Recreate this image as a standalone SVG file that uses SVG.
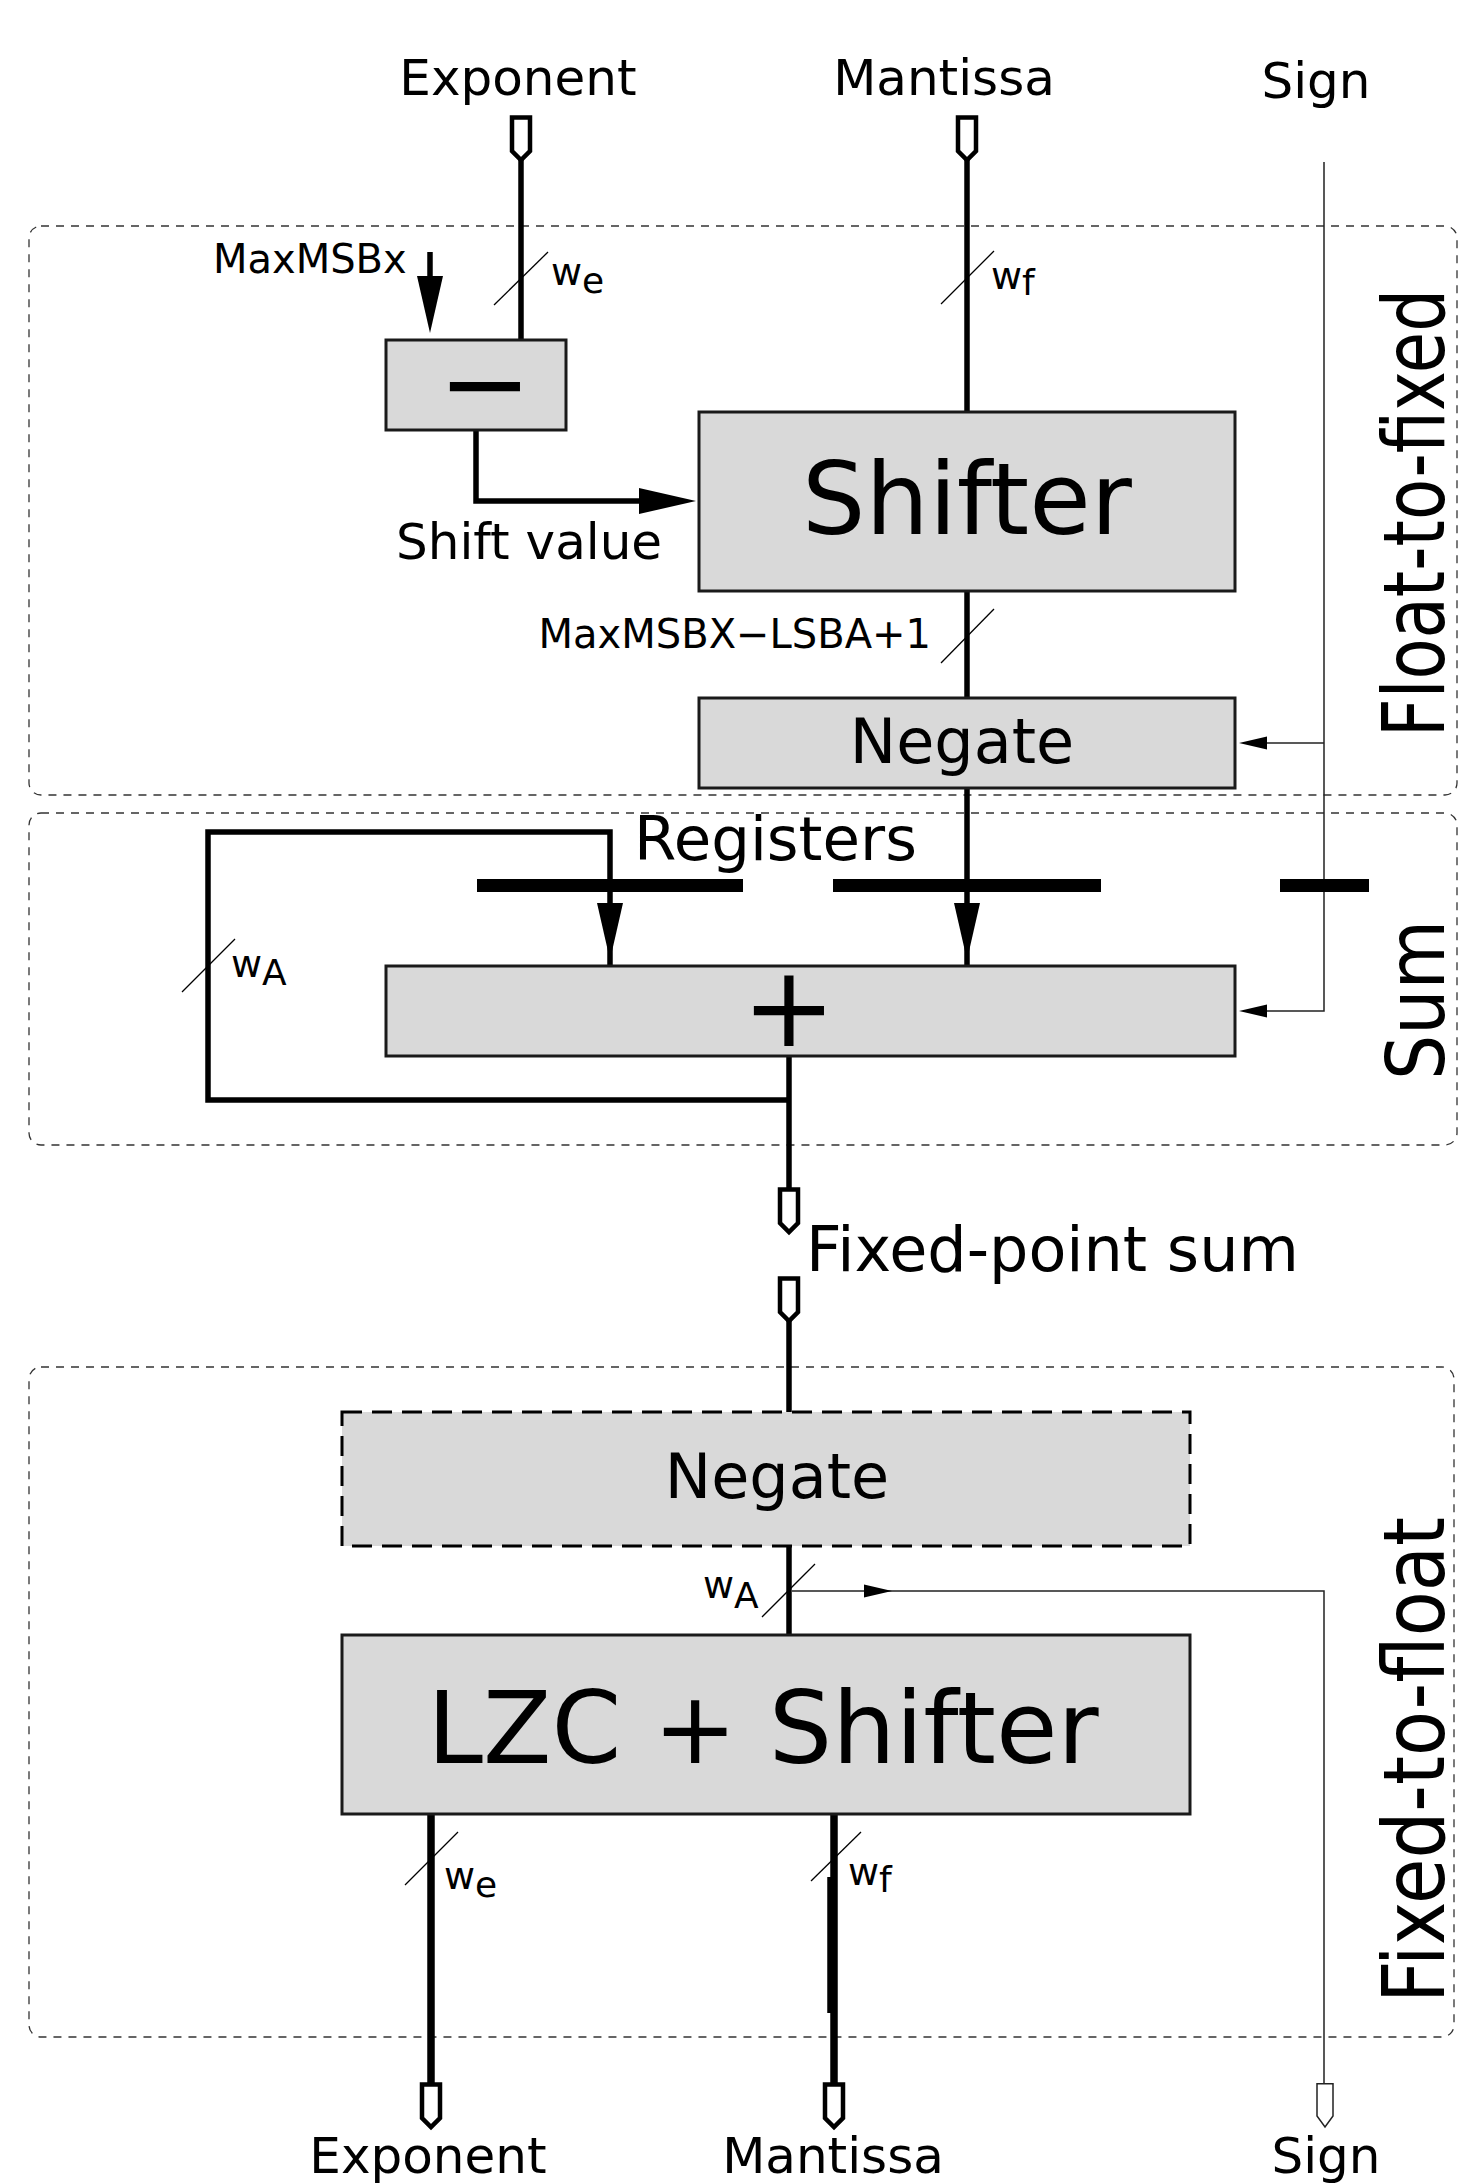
<svg xmlns="http://www.w3.org/2000/svg" width="1463" height="2184" viewBox="0 0 1463 2184">
<defs>
<style>
text { font-family: "DejaVu Sans", "Liberation Sans", sans-serif; fill: #000; }
.box { fill: #d9d9d9; stroke: #1a1a1a; stroke-width: 3; }
.dbox { fill: #d9d9d9; stroke: #000; stroke-width: 3; stroke-dasharray: 20 10; }
.region { fill: none; stroke: #333; stroke-width: 1.3; stroke-dasharray: 8 7; }
.w { fill: none; stroke: #000; stroke-width: 5.5; }
.wb { fill: none; stroke: #000; stroke-width: 7.5; }
.thin { fill: none; stroke: #222; stroke-width: 1.5; }
.slash { stroke: #000; stroke-width: 1.3; }
.port { fill: #fff; stroke: #000; stroke-width: 4.5; }
.sport { fill: #fff; stroke: #222; stroke-width: 1.5; }
.reg { stroke: #000; stroke-width: 13; }
.ah { fill: #000; }
.io { font-size: 50px; text-anchor: middle; }
.lbl { font-size: 38px; }
.sub { font-size: 36px; }
.side { text-anchor: middle; }
</style>
<path id="ahT" d="M-13,-57 L13,-57 L0,0 Z"/>
<path id="ahS" d="M-28,-6.5 L0,0 L-28,6.5 Z"/>
<path id="port" d="M-9,2.5 H9 V36 L0,45 L-9,36 Z"/>
<path id="sport" d="M-8,0.75 H8 V33 L0,44 L-8,33 Z"/>
</defs>
<rect width="1463" height="2184" fill="#fff"/>

<g id="region-float-to-fixed">
<rect class="region" x="29" y="226" width="1428" height="569" rx="12"/>
<text class="side" font-size="86" transform="translate(1444,513) rotate(-90)" textLength="448" lengthAdjust="spacingAndGlyphs">Float-to-fixed</text>
</g>
<g id="region-sum">
<rect class="region" x="29" y="813" width="1428" height="332" rx="12"/>
<text class="side" font-size="80" transform="translate(1444,1000) rotate(-90)" textLength="160" lengthAdjust="spacingAndGlyphs">Sum</text>
</g>
<g id="region-fixed-to-float">
<rect class="region" x="29" y="1367" width="1425" height="670" rx="12"/>
<text class="side" font-size="86" transform="translate(1444,1760) rotate(-90)" textLength="486" lengthAdjust="spacingAndGlyphs">Fixed-to-float</text>
</g>

<g id="connectors">
<path class="w" d="M521,158 V340"/>
<path class="w" d="M967,158 V412"/>
<path class="w" d="M430,252 V300"/>
<use href="#ahT" class="ah" transform="translate(430,333)"/>
<path class="w" d="M476,430 V501 H660"/>
<use href="#ahT" class="ah" transform="translate(696,501) rotate(-90)"/>
<path class="w" d="M967,591 V698"/>
<path class="w" d="M967,788 V966"/>
<use href="#ahT" class="ah" transform="translate(967,960)"/>
<path class="w" d="M789,1100 H208 V832 H610 V966"/>
<use href="#ahT" class="ah" transform="translate(610,960)"/>
<path class="w" d="M789,1056 V1190"/>
<path class="w" d="M789,1320 V1412"/>
<path class="w" d="M789,1546 V1635"/>
<path class="wb" d="M431,1814 V2084"/>
<path class="wb" d="M834,1814 V2084"/>
<path class="w" d="M830,1877 V2013"/>
<path class="thin" d="M1324,162 V1011 H1262"/>
<path class="thin" d="M1324,743 H1262"/>
<use href="#ahS" class="ah" transform="translate(1239,743) rotate(180)"/>
<use href="#ahS" class="ah" transform="translate(1239,1011) rotate(180)"/>
<path class="thin" d="M792,1591 H1324 V2084"/>
<use href="#ahS" class="ah" transform="translate(892,1591)"/>
<line class="slash" x1="494" y1="305" x2="548" y2="252"/>
<line class="slash" x1="941" y1="304" x2="994" y2="251"/>
<line class="slash" x1="941" y1="663" x2="994" y2="609"/>
<line class="slash" x1="182" y1="992" x2="235" y2="939"/>
<line class="slash" x1="762" y1="1617" x2="815" y2="1564"/>
<line class="slash" x1="405" y1="1885" x2="458" y2="1832"/>
<line class="slash" x1="811" y1="1881" x2="861" y2="1832"/>
<text class="lbl" x="551" y="285">w<tspan class="sub" dy="8">e</tspan></text>
<text class="lbl" x="991" y="289">w<tspan class="sub" dy="6">f</tspan></text>
<text class="lbl" x="231" y="977">w<tspan class="sub" dy="8">A</tspan></text>
<text class="lbl" x="703" y="1598">w<tspan class="sub" dy="10">A</tspan></text>
<text class="lbl" x="444" y="1889">w<tspan class="sub" dy="8">e</tspan></text>
<text class="lbl" x="848" y="1885">w<tspan class="sub" dy="7">f</tspan></text>
<text font-size="40" x="213" y="273">MaxMSBx</text>
<text font-size="50" x="396" y="559">Shift value</text>
<text font-size="40" x="931" y="648" text-anchor="end">MaxMSBX−LSBA+1</text>
<text font-size="62" x="806" y="1271">Fixed-point sum</text>
</g>

<g id="port-exponent-in">
<text class="io" x="518" y="95">Exponent</text>
<use href="#port" class="port" transform="translate(521,115)"/>
</g>
<g id="port-mantissa-in">
<text class="io" x="944" y="95">Mantissa</text>
<use href="#port" class="port" transform="translate(967,115)"/>
</g>
<g id="port-sign-in">
<text class="io" x="1316" y="98">Sign</text>
</g>

<g id="node-sub">
<rect class="box" x="386" y="340" width="180" height="90"/>
<text font-size="112" x="485" y="422" text-anchor="middle">−</text>
</g>
<g id="node-shifter">
<rect class="box" x="699" y="412" width="536" height="179"/>
<text font-size="100" x="967" y="534" text-anchor="middle">Shifter</text>
</g>
<g id="node-negate1">
<rect class="box" x="699" y="698" width="536" height="90"/>
<text font-size="62" x="962" y="763" text-anchor="middle">Negate</text>
</g>

<g id="registers">
<line class="reg" x1="477" y1="885.5" x2="743" y2="885.5"/>
<line class="reg" x1="833" y1="885.5" x2="1101" y2="885.5"/>
<line class="reg" x1="1280" y1="885.5" x2="1369" y2="885.5"/>
<text font-size="61" x="634" y="860">Registers</text>
</g>

<g id="node-adder">
<rect class="box" x="386" y="966" width="849" height="90"/>
<text font-size="112" x="789" y="1046" text-anchor="middle">+</text>
</g>

<g id="port-fixed-out">
<use href="#port" class="port" transform="translate(789,1187)"/>
</g>
<g id="port-fixed-in">
<use href="#port" class="port" transform="translate(789,1276)"/>
</g>

<g id="node-negate2">
<rect class="dbox" x="342" y="1412" width="848" height="134"/>
<text font-size="62" x="777" y="1498" text-anchor="middle">Negate</text>
</g>
<g id="node-lzc">
<rect class="box" x="342" y="1635" width="848" height="179"/>
<text font-size="100" x="763" y="1763" text-anchor="middle">LZC + Shifter</text>
</g>

<g id="port-exponent-out">
<use href="#port" class="port" transform="translate(431,2082)"/>
<text class="io" x="428" y="2173">Exponent</text>
</g>
<g id="port-mantissa-out">
<use href="#port" class="port" transform="translate(834,2082)"/>
<text class="io" x="833" y="2173">Mantissa</text>
</g>
<g id="port-sign-out">
<use href="#sport" class="sport" transform="translate(1325,2083)"/>
<text class="io" x="1326" y="2173">Sign</text>
</g>
</svg>
